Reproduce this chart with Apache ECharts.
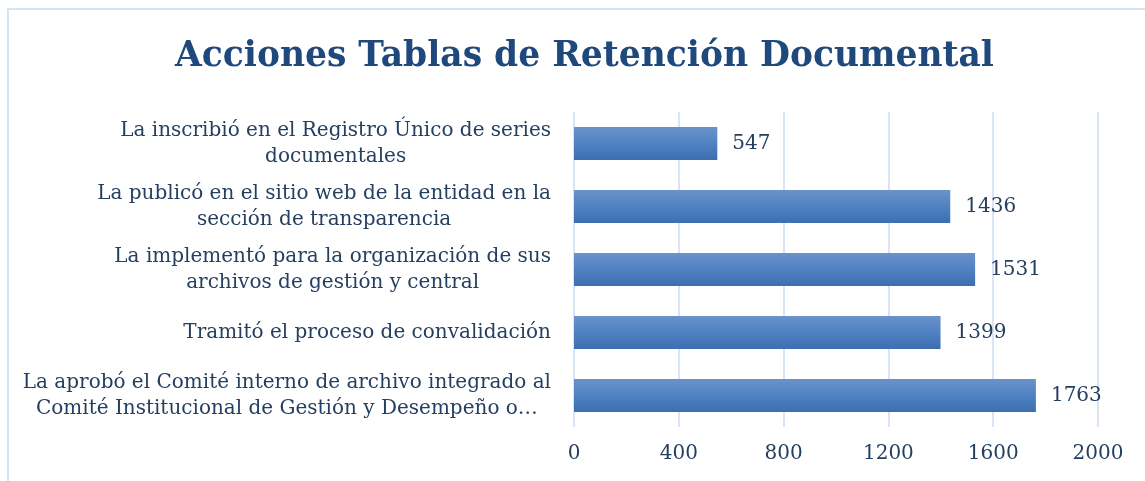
<!DOCTYPE html>
<html>
<head>
<meta charset="utf-8">
<script src="https://cdn.jsdelivr.net/npm/echarts@6/dist/echarts.min.js"></script>
<style>
  html, body { margin: 0; padding: 0; background: #fff; }
  #chart { width: 1145px; height: 481px; }
</style>
</head>
<body>
<div id="chart"></div>
<script>
// top to bottom, as in the picture
const categories = [
  'La inscribió en el Registro Único de series\ndocumentales',
  'La publicó en el sitio web de la entidad en la\nsección de transparencia',
  'La implementó para la organización de sus\narchivos de gestión y central',
  'Tramitó el proceso de convalidación',
  'La aprobó el Comité interno de archivo integrado al\nComité Institucional de Gestión y Desempeño o…',
]
const values = [547, 1436, 1531, 1399, 1763]
const xTicks = [0, 400, 800, 1200, 1600, 2000]

const FONT = '"DejaVu Serif", "Liberation Serif", serif'
const TEXT = '#243f60'

const chart = echarts.init(document.getElementById('chart'))
chart.setOption({
  backgroundColor: '#fff',
  animation: false,
  title: {
    text: 'Acciones Tablas de Retención Documental',
    left: 170, top: 35,
    textStyle: { fontFamily: FONT, fontSize: 34.5, fontWeight: 'bold', color: '#1f497d' },
  },
  graphic: [{
    type: 'rect', silent: true,
    shape: { x: 8, y: 9, width: 1160, height: 500 },
    style: { fill: 'none', stroke: '#d5e3f3', lineWidth: 2 },
  }],
  grid: { left: 574, right: 47, top: 112, bottom: 54, containLabel: false, outerBoundsMode: 'none' },
  xAxis: {
    type: 'value', min: xTicks[0], max: xTicks[xTicks.length - 1], interval: 400,
    axisLine: { show: false }, axisTick: { show: false },
    axisLabel: { color: TEXT, fontFamily: FONT, fontSize: 20, margin: 17, formatter: v => String(v) },
    splitLine: { lineStyle: { color: '#d9e5f4', width: 2 } },
  },
  yAxis: {
    type: 'category', inverse: true, data: categories,
    axisLine: { show: false }, axisTick: { show: false },
    axisLabel: {
      margin: 23, align: 'right',
      formatter: v => v.split('\n').map(s => '{c|' + s + '}').join('\n'),
      rich: { c: { align: 'center', color: TEXT, fontFamily: FONT, fontSize: 20, lineHeight: 26 } },
    },
  },
  series: [{
    type: 'bar', data: values, barCategoryGap: '48%',
    itemStyle: {
      color: new echarts.graphic.LinearGradient(0, 0, 0, 1, [
        { offset: 0, color: '#6b92c9' },
        { offset: 0.5, color: '#4f82c3' },
        { offset: 1, color: '#3c6eb1' },
      ]),
    },
    label: { show: true, position: 'right', distance: 15, color: TEXT, fontFamily: FONT, fontSize: 20 },
  }],
})
</script>
</body>
</html>
